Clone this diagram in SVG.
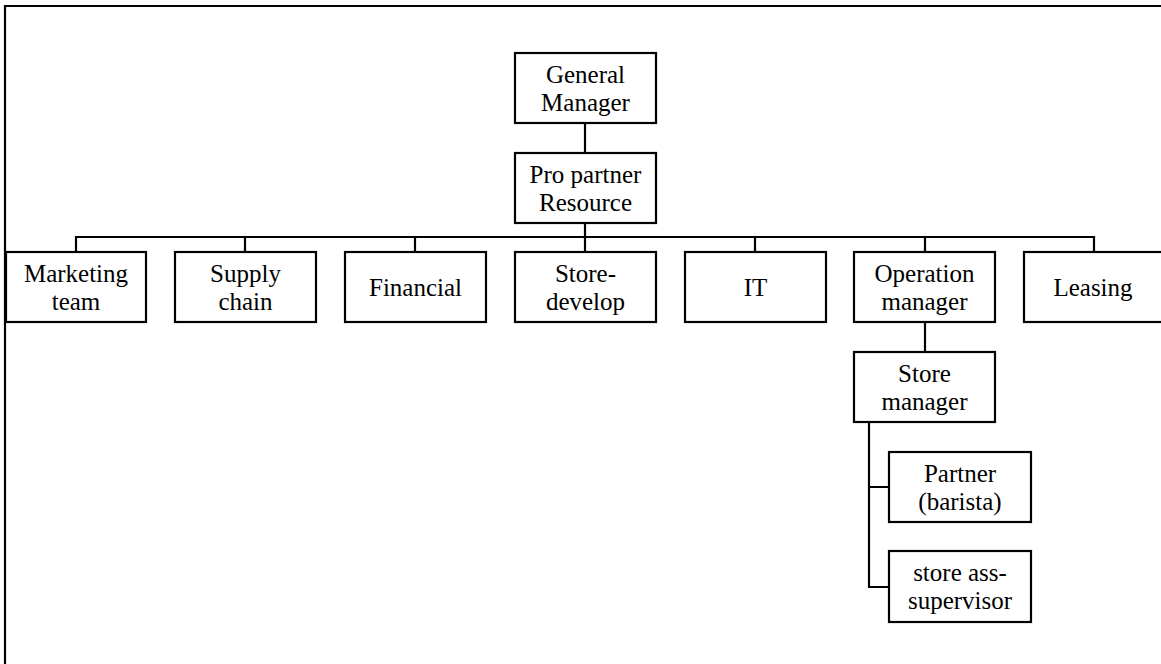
<svg xmlns="http://www.w3.org/2000/svg" width="1161" height="664" viewBox="0 0 1161 664">
<style>
.box{fill:#fff;stroke:#000;stroke-width:2.2}
.ln{fill:none;stroke:#000;stroke-width:2.2}
text{font-family:"Liberation Serif","Times New Roman",serif;font-size:25px;fill:#000;text-anchor:middle}
</style>
<rect width="1161" height="664" fill="#fff"/>
<g id="frame"><path class="ln" d="M5,664 V6 H1161"/></g>
<g id="connectors">
<path class="ln" d="M585,123 V153"/>
<path class="ln" d="M585,223 V252"/>
<path class="ln" d="M76,252 V237 H1094 V252"/>
<path class="ln" d="M245,237 V252 M415,237 V252 M755,237 V252 M925,237 V252"/>
<path class="ln" d="M925,322 V352"/>
<path class="ln" d="M869,422 V587 H889 M869,487 H889"/>
</g>
<g id="gm"><rect class="box" x="515" y="53" width="141" height="70"/><text y="83"><tspan x="585.5">General</tspan><tspan x="585.5" dy="28">Manager</tspan></text></g>
<g id="ppr"><rect class="box" x="515" y="153" width="141" height="70"/><text y="183"><tspan x="585.5">Pro partner</tspan><tspan x="585.5" dy="28">Resource</tspan></text></g>
<g id="marketing"><rect class="box" x="6" y="252" width="140" height="70"/><text y="282"><tspan x="76">Marketing</tspan><tspan x="76" dy="28">team</tspan></text></g>
<g id="supply"><rect class="box" x="175" y="252" width="141" height="70"/><text y="282"><tspan x="245.5">Supply</tspan><tspan x="245.5" dy="28">chain</tspan></text></g>
<g id="financial"><rect class="box" x="345" y="252" width="141" height="70"/><text x="415.5" y="296">Financial</text></g>
<g id="storedev"><rect class="box" x="515" y="252" width="141" height="70"/><text y="282"><tspan x="585.5">Store-</tspan><tspan x="585.5" dy="28">develop</tspan></text></g>
<g id="it"><rect class="box" x="685" y="252" width="141" height="70"/><text x="755.5" y="296">IT</text></g>
<g id="opm"><rect class="box" x="854" y="252" width="141" height="70"/><text y="282"><tspan x="924.5">Operation</tspan><tspan x="924.5" dy="28">manager</tspan></text></g>
<g id="leasing"><rect class="box" x="1024" y="252" width="141" height="70"/><text x="1093" y="296">Leasing</text></g>
<g id="storem"><rect class="box" x="854" y="352" width="141" height="70"/><text y="382"><tspan x="924.5">Store</tspan><tspan x="924.5" dy="28">manager</tspan></text></g>
<g id="partner"><rect class="box" x="889" y="452" width="142" height="70"/><text y="482"><tspan x="960">Partner</tspan><tspan x="960" dy="28">(barista)</tspan></text></g>
<g id="assup"><rect class="box" x="889" y="551" width="142" height="71"/><text y="581"><tspan x="960">store ass-</tspan><tspan x="960" dy="28">supervisor</tspan></text></g>
</svg>
